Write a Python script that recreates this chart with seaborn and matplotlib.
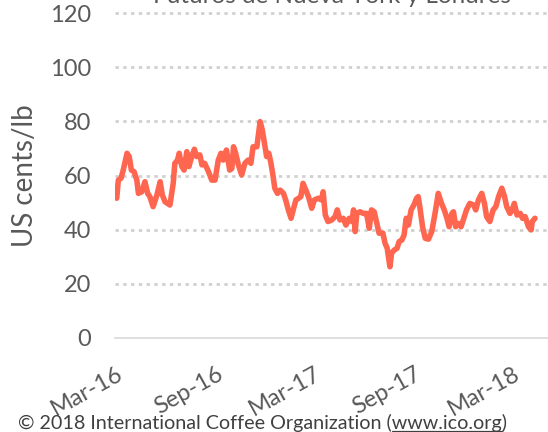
import matplotlib
matplotlib.use("Agg")
import matplotlib.pyplot as plt
from matplotlib.lines import Line2D
import pandas as pd
import seaborn as sns

# values (US cents/lb)
dates = [
    "2016-03-02", "2016-03-05", "2016-03-10", "2016-03-14", "2016-03-21", "2016-03-25",
    "2016-03-29", "2016-04-03", "2016-04-08", "2016-04-11", "2016-04-17", "2016-04-23",
    "2016-04-28", "2016-05-02", "2016-05-08", "2016-05-15", "2016-05-21", "2016-05-25",
    "2016-05-30", "2016-06-08", "2016-06-14", "2016-06-17", "2016-06-22", "2016-06-25",
    "2016-06-30", "2016-07-04", "2016-07-09", "2016-07-13", "2016-07-18", "2016-07-23",
    "2016-07-27", "2016-08-02", "2016-08-06", "2016-08-11", "2016-08-18", "2016-08-24",
    "2016-08-30", "2016-09-05", "2016-09-10", "2016-09-14", "2016-09-20", "2016-09-26",
    "2016-09-30", "2016-10-03", "2016-10-07", "2016-10-12", "2016-10-18", "2016-10-24",
    "2016-10-30", "2016-11-04", "2016-11-08", "2016-11-15", "2016-11-21", "2016-11-25",
    "2016-11-29", "2016-12-03", "2016-12-07", "2016-12-11", "2016-12-15", "2016-12-18",
    "2016-12-23", "2016-12-28", "2017-01-03", "2017-01-07", "2017-01-12", "2017-01-17",
    "2017-01-21", "2017-01-26", "2017-01-31", "2017-02-04", "2017-02-08", "2017-02-13",
    "2017-02-18", "2017-02-24", "2017-03-01", "2017-03-08", "2017-03-14", "2017-03-17",
    "2017-03-21", "2017-03-26", "2017-04-02", "2017-04-08", "2017-04-12", "2017-04-17",
    "2017-04-23", "2017-04-28", "2017-05-04", "2017-05-09", "2017-05-12", "2017-05-15",
    "2017-05-18", "2017-05-24", "2017-05-30", "2017-06-05", "2017-06-10", "2017-06-14",
    "2017-06-19", "2017-06-24", "2017-06-28", "2017-07-05", "2017-07-09", "2017-07-13",
    "2017-07-18", "2017-07-21", "2017-07-26", "2017-07-31", "2017-08-04", "2017-08-09",
    "2017-08-13", "2017-08-17", "2017-08-21", "2017-08-26", "2017-08-31", "2017-09-05",
    "2017-09-08", "2017-09-11", "2017-09-16", "2017-09-21", "2017-09-27", "2017-10-03",
    "2017-10-09", "2017-10-15", "2017-10-21", "2017-10-26", "2017-10-31", "2017-11-04",
    "2017-11-09", "2017-11-12", "2017-11-16", "2017-11-21", "2017-11-26", "2017-11-30",
    "2017-12-06", "2017-12-12", "2017-12-19", "2017-12-23", "2017-12-28", "2018-01-03",
    "2018-01-08", "2018-01-12", "2018-01-18", "2018-01-24", "2018-01-29", "2018-02-03",
    "2018-02-09", "2018-02-14", "2018-02-18", "2018-02-24", "2018-02-28", "2018-03-04",
    "2018-03-09", "2018-03-15", "2018-03-19", "2018-03-24", "2018-03-30", "2018-04-04",
    "2018-04-06", "2018-04-11",
]
values = [
    51.6, 58.3, 59.0, 62.0, 68.2, 67.0,
    62.0, 61.4, 58.3, 53.4, 54.0, 57.7,
    53.4, 52.2, 48.5, 52.8, 57.7, 52.8,
    50.3, 49.1, 57.1, 64.5, 65.7, 68.2,
    63.3, 62.0, 68.8, 63.3, 67.0, 69.7,
    67.0, 67.6, 63.9, 64.5, 61.4, 58.3,
    58.3, 65.7, 68.2, 65.7, 69.4, 62.0,
    62.6, 70.6, 68.2, 63.9, 60.2, 64.5,
    65.7, 64.5, 70.6, 70.6, 79.9, 76.8,
    71.9, 67.0, 68.2, 64.5, 59.6, 55.3,
    53.4, 54.6, 53.4, 51.0, 47.3, 44.2,
    47.3, 51.0, 51.6, 52.2, 57.1, 54.6,
    52.2, 47.9, 51.0, 51.6, 51.0, 54.0,
    45.4, 43.0, 43.6, 44.8, 47.3, 43.6,
    44.2, 41.7, 44.2, 43.0, 47.3, 39.3,
    46.0, 46.6, 46.0, 46.0, 40.5, 47.3,
    46.6, 42.3, 38.7, 38.7, 35.0, 33.1,
    26.3, 31.3, 32.5, 33.1, 35.6, 36.2,
    38.0, 44.2, 41.7, 47.3, 49.1, 51.6,
    52.2, 48.5, 41.1, 36.8, 36.5, 39.3,
    46.0, 53.4, 49.7, 47.3, 44.2, 41.1,
    46.0, 46.6, 41.1, 42.3, 41.1, 43.6,
    47.3, 49.7, 49.1, 47.3, 51.0, 53.4,
    49.7, 44.8, 43.0, 47.3, 48.5, 52.2,
    55.3, 52.2, 48.5, 46.0, 47.3, 49.7,
    45.4, 46.0, 44.2, 44.8, 41.1, 39.9,
    43.0, 44.2,
]
tick_dates = ["2016-03-01", "2016-09-01", "2017-03-01", "2017-09-01", "2018-03-01"]
tick_labels = ["Mar-16", "Sep-16", "Mar-17", "Sep-17", "Mar-18"]
y_ticks = [0, 20, 40, 60, 80, 100, 120]

sns.set_theme(style="white")
plt.rcParams["font.family"] = ["Lato", "DejaVu Sans"]

df = pd.DataFrame({"date": pd.to_datetime(dates), "value": values})

fig = plt.figure(figsize=(5.48, 4.32), dpi=100)
ax = fig.add_axes([0.21, 0.2176, 0.79, 0.7523])

sns.lineplot(data=df, x="date", y="value", color="#FF6650", linewidth=4, ax=ax)

ax.set_ylim(0, 120)
ax.set_yticks(y_ticks)
ax.set_xlim(pd.Timestamp("2016-02-28"), pd.Timestamp("2018-05-05"))
ax.set_xticks(pd.to_datetime(tick_dates))
ax.set_xticklabels(tick_labels, rotation=29, ha="right", va="top", rotation_mode="anchor")
ax.tick_params(axis="both", length=0, labelsize=17, labelcolor="#595959")
ax.tick_params(axis="x", pad=18)
ax.tick_params(axis="y", pad=17)

ax.set_xlabel("")
ax.set_ylabel("US cents/lb", fontsize=20, color="#595959", labelpad=9)

# dotted horizontal gridlines, solid line at zero
ax.yaxis.grid(True, linestyle=(0, (1.2, 1.6)), color="#D0D0D0", linewidth=2)
ax.set_axisbelow(True)
for gl in ax.get_ygridlines():
    gl.set_clip_on(False)
ax.get_ygridlines()[0].set_visible(False)
for side in ["top", "right", "left"]:
    ax.spines[side].set_visible(False)
ax.spines["bottom"].set_color("#D9D9D9")
ax.spines["bottom"].set_linewidth(1.2)

# title is cut off at the top in the reference
fig.text(0.605, 0.993, "Futuros de Nueva York y Londres", ha="center", va="baseline",
         fontsize=17.5, color="#595959")

# footer with underlined link
prefix = "\u00a9 2018 International Coffee Organization ("
link = "www.ico.org"
fx, fy = 0.033, 0.006
foot_kw = dict(fontsize=14.2, color="#404040")
fig.text(fx, fy, prefix + link + ")", ha="left", va="baseline", **foot_kw)
r = fig.canvas.get_renderer()
t1 = fig.text(fx, fy, prefix, ha="left", va="baseline", **foot_kw)
w1 = t1.get_window_extent(r).width
t1.remove()
t2 = fig.text(fx, fy, link, ha="left", va="baseline", **foot_kw)
w2 = t2.get_window_extent(r).width
t2.remove()
W, H = fig.bbox.width, fig.bbox.height
x_start = fx + w1 / W
x_end = x_start + w2 / W
fig.add_artist(Line2D([x_start, x_end], [fy - 1.5 / H, fy - 1.5 / H],
                      transform=fig.transFigure, color="#404040", linewidth=0.9))

fig.savefig("out.png", dpi=100)
